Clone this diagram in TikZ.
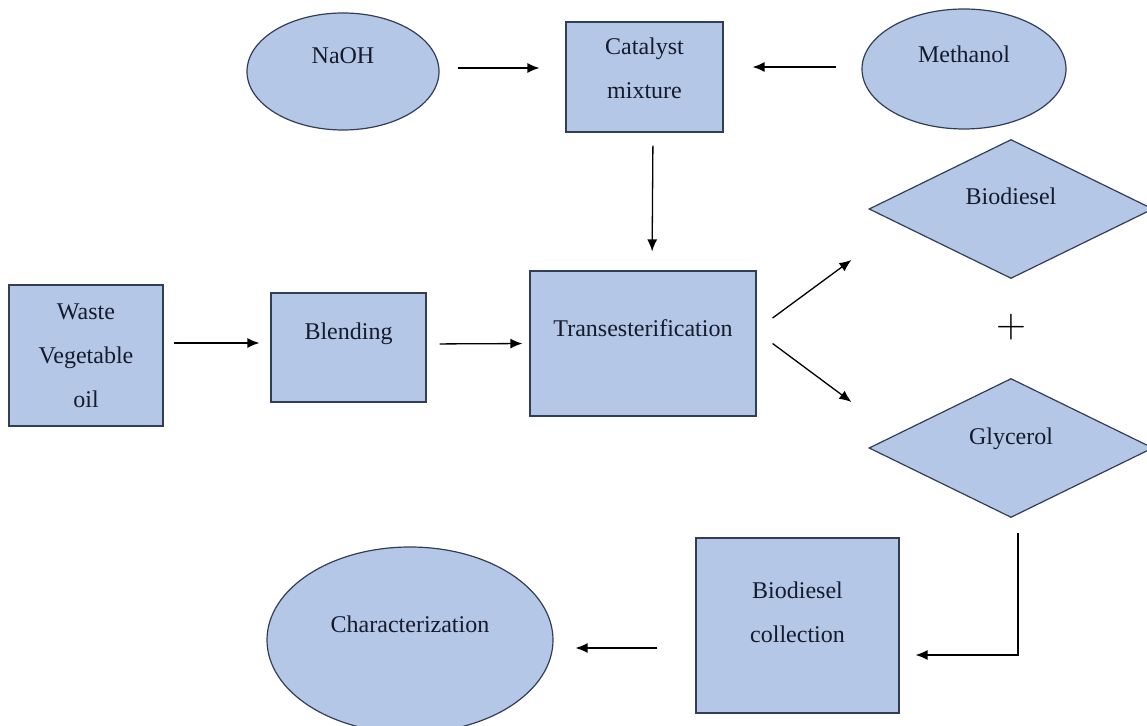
\documentclass[tikz,border=0pt]{standalone}
\usepackage{fontspec}
\setmainfont{Liberation Serif}
\usetikzlibrary{shapes.geometric,arrows.meta}
\definecolor{boxfill}{RGB}{180,199,231}
\definecolor{boxline}{RGB}{50,62,88}
\definecolor{ink}{RGB}{22,26,45}
\newcommand{\up}[2]{\raisebox{#1}[0pt][0pt]{#2}}
\newcommand{\lines}[1]{\begin{tabular}{@{}c@{}}#1\end{tabular}}

\begin{document}
\begin{tikzpicture}[
	x=0.5pt, y=-0.5pt,
	font=\fontsize{12}{22}\selectfont,
	box/.style={draw=boxline, line width=0.6pt, fill=boxfill, text=ink, inner sep=0pt},
	proc/.style={box, rectangle},
	feed/.style={box, ellipse},
	prod/.style={box, diamond, minimum width=142pt, minimum height=69.5pt},
	arr/.style={-{Latex[length=6pt,width=5pt]}, line width=0.65pt, black}]
\clip (0,0) rectangle (1147,726);
\fill[white] (0,0) rectangle (1147,726);

% feeds and catalyst
\node[feed, minimum width=96pt, minimum height=58.5pt] (naoh) at (343,71.5) {\up{3.75pt}{NaOH}};
\node[proc, minimum width=78.5pt, minimum height=55pt] (cat) at (644.5,77) {\up{1.4pt}{\lines{Catalyst\\mixture}}};
\node[feed, minimum width=102pt, minimum height=60pt] (meth) at (964,69) {\up{3pt}{Methanol}};

% main line
\node[proc, minimum width=77pt, minimum height=70.5pt] (waste) at (86,355.5) {\up{-2.6pt}{\lines{Waste\\Vegetable\\oil}}};
\node[proc, minimum width=77.5pt, minimum height=54.5pt] (blend) at (348.5,347.5) {\up{3.75pt}{Blending}};
\node[proc, minimum width=113pt, minimum height=72.5pt] (trans) at (643,343.5) {\up{3.25pt}{Transesterification}};

% products
\node[prod] (bio) at (1011,209) {\up{2pt}{Biodiesel}};
\node[font=\fontsize{21}{24}\selectfont] (plus) at (1011,327) {$+$};
\node[prod] (gly) at (1011,448) {\up{1.5pt}{Glycerol}};

% end of the line
\node[proc, minimum width=101.5pt, minimum height=87.5pt] (coll) at (797.5,625.5) {\up{3.9pt}{\lines{Biodiesel\\collection}}};
\node[feed, minimum width=143pt, minimum height=93pt] (char) at (410,640) {\up{3.5pt}{Characterization}};

\draw[arr, shorten <=9pt, shorten >=13pt] ([yshift=1.75pt]naoh.east) -- ([yshift=4.5pt]cat.west);
\draw[arr, shorten <=12.5pt, shorten >=14.5pt] ([yshift=1pt]meth.west) -- ([yshift=5pt]cat.east);
\draw[arr, shorten <=6.5pt, shorten >=9.5pt] ([xshift=4.25pt]cat.south) -- ([xshift=4.5pt]trans.north);
\draw[arr, shorten <=5pt, shorten >=5.5pt] ([yshift=6.25pt]waste.east) -- ([yshift=2.25pt]blend.west);
\draw[arr, shorten <=6.5pt, shorten >=3.5pt] ([yshift=1.75pt]blend.east) -- (trans.west);
\draw[arr] ([xshift=8pt,yshift=12.75pt]trans.east) -- ([xshift=-8.5pt,yshift=-25.5pt]bio.west);
\draw[arr] ([xshift=8pt]trans.east) -- ([xshift=-8.5pt,yshift=23pt]gly.west);
\draw[arr] ([xshift=3.5pt,yshift=-7.5pt]gly.south) |- ([xshift=8pt,yshift=-14.75pt]coll.east);
\draw[arr] ([xshift=-19pt,yshift=-11.25pt]coll.west) -- ([xshift=11pt,yshift=-4pt]char.east);
\end{tikzpicture}
\end{document}
